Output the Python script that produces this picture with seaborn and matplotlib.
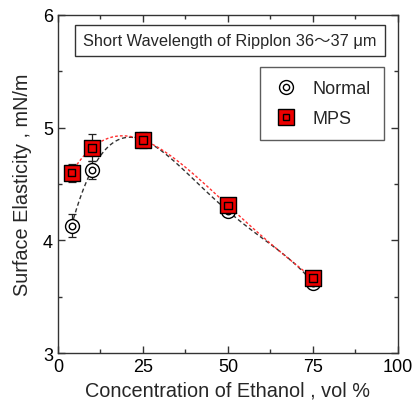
import numpy as np
import pandas as pd
import matplotlib
matplotlib.use("Agg")
import matplotlib.pyplot as plt
import seaborn as sns
from matplotlib.ticker import MultipleLocator

# ---- data ----
conc = [4, 10, 25, 50, 75]
normal_vals = [4.13, 4.625, 4.89, 4.26, 3.625]
normal_err = [0.10, 0.08, 0.06, 0.03, 0.03]
mps_vals = [4.60, 4.82, 4.89, 4.31, 3.665]
mps_err = [0.08, 0.12, 0.07, 0.03, 0.03]
title_text = "Short Wavelength of Ripplon 36～37 μm"
series_names = ["Normal", "MPS"]
x_ticks = [0, 25, 50, 75, 100]
y_ticks = [3, 4, 5, 6]

sns.set_style("white")
plt.rcParams['font.family'] = ['Liberation Sans', 'Noto Sans CJK JP', 'DejaVu Sans']

df_n = pd.DataFrame({"conc": conc, "val": normal_vals, "err": normal_err})
df_m = pd.DataFrame({"conc": conc, "val": mps_vals, "err": mps_err})

fig = plt.figure(figsize=(4.17, 4.06), dpi=100)
ax = fig.add_axes([0.139, 0.128, 0.815, 0.833])

# fitted dashed curves
sns.regplot(data=df_n, x="conc", y="val", order=4, ci=None, scatter=False, truncate=True,
            line_kws=dict(color="#333333", ls=(0, (3, 2)), lw=1.0), ax=ax)
sns.regplot(data=df_m, x="conc", y="val", order=4, ci=None, scatter=False, truncate=True,
            line_kws=dict(color="#ff3030", ls=(0, (2, 1.5)), lw=1.0), ax=ax)

# error bars
ax.errorbar(df_n["conc"], df_n["val"], yerr=df_n["err"], fmt="none", ecolor="#222222",
            elinewidth=0.9, capsize=3, capthick=0.9, zorder=3)
ax.errorbar(df_m["conc"], df_m["val"], yerr=df_m["err"], fmt="none", ecolor="#222222",
            elinewidth=0.9, capsize=3, capthick=0.9, zorder=3)

# Normal markers: double circle
sns.scatterplot(data=df_n, x="conc", y="val", marker="o", s=100, facecolor="white",
                edgecolor="black", linewidth=1.0, zorder=4, ax=ax)
sns.scatterplot(data=df_n, x="conc", y="val", marker="o", s=22, facecolor="white",
                edgecolor="black", linewidth=1.0, zorder=5, ax=ax)
# MPS markers: red square with inner square
sns.scatterplot(data=df_m, x="conc", y="val", marker="s", s=125, facecolor="#ee0000",
                edgecolor="black", linewidth=1.0, zorder=6, ax=ax)
sns.scatterplot(data=df_m, x="conc", y="val", marker="s", s=28, facecolor="none",
                edgecolor="black", linewidth=1.0, zorder=7, ax=ax)

ax.set_xlim(0, 100)
ax.set_ylim(3, 6)
ax.set_xticks(x_ticks)
ax.set_yticks(y_ticks)
ax.xaxis.set_minor_locator(MultipleLocator(12.5))
ax.yaxis.set_minor_locator(MultipleLocator(0.5))
ax.tick_params(which="both", direction="in", top=True, right=True, bottom=True, left=True,
               labelsize=13, colors="#333333", labelcolor="black")
ax.tick_params(which="major", length=5, width=1)
ax.tick_params(which="minor", length=3, width=1)
for sp in ax.spines.values():
    sp.set_color("#333333")
    sp.set_linewidth(1.0)

ax.set_xlabel("Concentration of Ethanol , vol %", fontsize=14.3, labelpad=4)
ax.set_ylabel("Surface Elasticity , mN/m", fontsize=14.3, labelpad=8)

# title box
ax.text(0.505, 0.925, title_text, transform=ax.transAxes, ha="center", va="center",
        fontsize=11.8, family=['Liberation Sans', 'Noto Sans CJK JP'],
        bbox=dict(boxstyle="square,pad=0.5", fc="white", ec="#333333", lw=1.0))

# legend
from matplotlib.lines import Line2D
h_n = (Line2D([], [], marker="o", ms=10, mfc="white", mec="black", ls="none", mew=1.0),
       Line2D([], [], marker="o", ms=4.5, mfc="white", mec="black", ls="none", mew=1.0))
h_m = (Line2D([], [], marker="s", ms=11, mfc="#ee0000", mec="black", ls="none", mew=1.0),
       Line2D([], [], marker="s", ms=5, mfc="none", mec="black", ls="none", mew=1.0))
leg = ax.legend([h_n, h_m], series_names, loc="upper right", bbox_to_anchor=(0.958, 0.845),
                fontsize=13, frameon=True, fancybox=False, edgecolor="#333333",
                borderpad=0.7, labelspacing=0.75, handletextpad=0.7, handlelength=1.5,
                borderaxespad=0)
leg.get_frame().set_linewidth(1.0)

fig.savefig("out.png", dpi=100)
